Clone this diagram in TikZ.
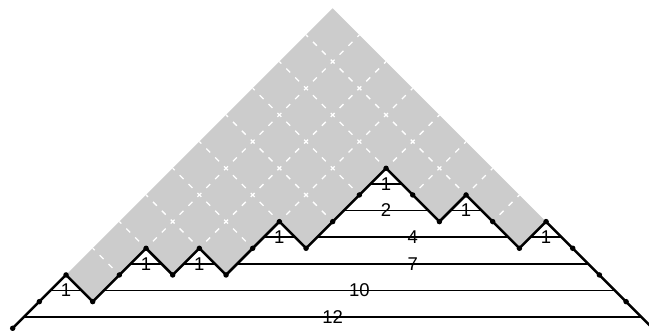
\documentclass[tikz,border=0pt]{standalone}
\usepackage{fontspec}
\setmainfont{Liberation Sans}
\begin{document}
\begin{tikzpicture}[x=26.667pt,y=26.667pt,
  pathline/.style={line width=2.5pt, line join=round},
  tunnel/.style={line width=1.8pt},
  lbl/.style={font=\fontsize{18.5}{18.5}\selectfont, inner sep=0pt},
  gridline/.style={white, line width=1.3pt, dash pattern=on 5.5pt off 7.07pt, dash phase=2.75pt},
  vdot/.style={circle, fill=black, inner sep=0pt, minimum size=5.5pt}]
\useasboundingbox (-0.476,-0.10) rectangle (23.86,12.31);
\foreach \h [count=\i from 0] in {0,1,2,1,2,3,2,3,2,3,4,3,4,5,6,5,4,5,4,3,4,3,2,1,0} {
  \coordinate (p\i) at (\i,\h);
}
\coordinate (apex) at (12,12);
% gray region above the path
\fill[black!20] (p2) \foreach \i in {3,...,20}{ -- (p\i)} -- (apex) -- cycle;
\begin{scope}
  \clip (p2) \foreach \i in {3,...,20}{ -- (p\i)} -- (apex) -- cycle;
  \foreach \a in {1,...,11} { \draw[gridline] (\a,\a) -- (2*\a,0); }
  \foreach \b in {1,...,11} { \draw[gridline] (2*\b,0) -- (12+\b,12-\b); }
\end{scope}
% tunnels
\foreach \tU/\tD/\tK/\tL [count=\n] in {0/23/0/12, 1/2/1/1, 3/22/1/10, 4/5/2/1, 6/7/2/1, 8/21/2/7, 9/10/3/1, 11/18/3/4, 19/20/3/1, 12/15/4/2, 16/17/4/1, 13/14/5/1} {
  \coordinate (tl\n) at (\tU+0.42,\tK+0.42);
  \coordinate (tr\n) at (\tD+0.58,\tK+0.42);
  \draw[tunnel] (tl\n) -- node[lbl] {\tL} (tr\n);
}
% Dyck path
\draw[pathline] (p0) \foreach \i in {1,...,24}{ -- (p\i)};
\foreach \i in {0,...,24} { \node[vdot] (d\i) at (p\i) {}; }
\end{tikzpicture}
\end{document}
